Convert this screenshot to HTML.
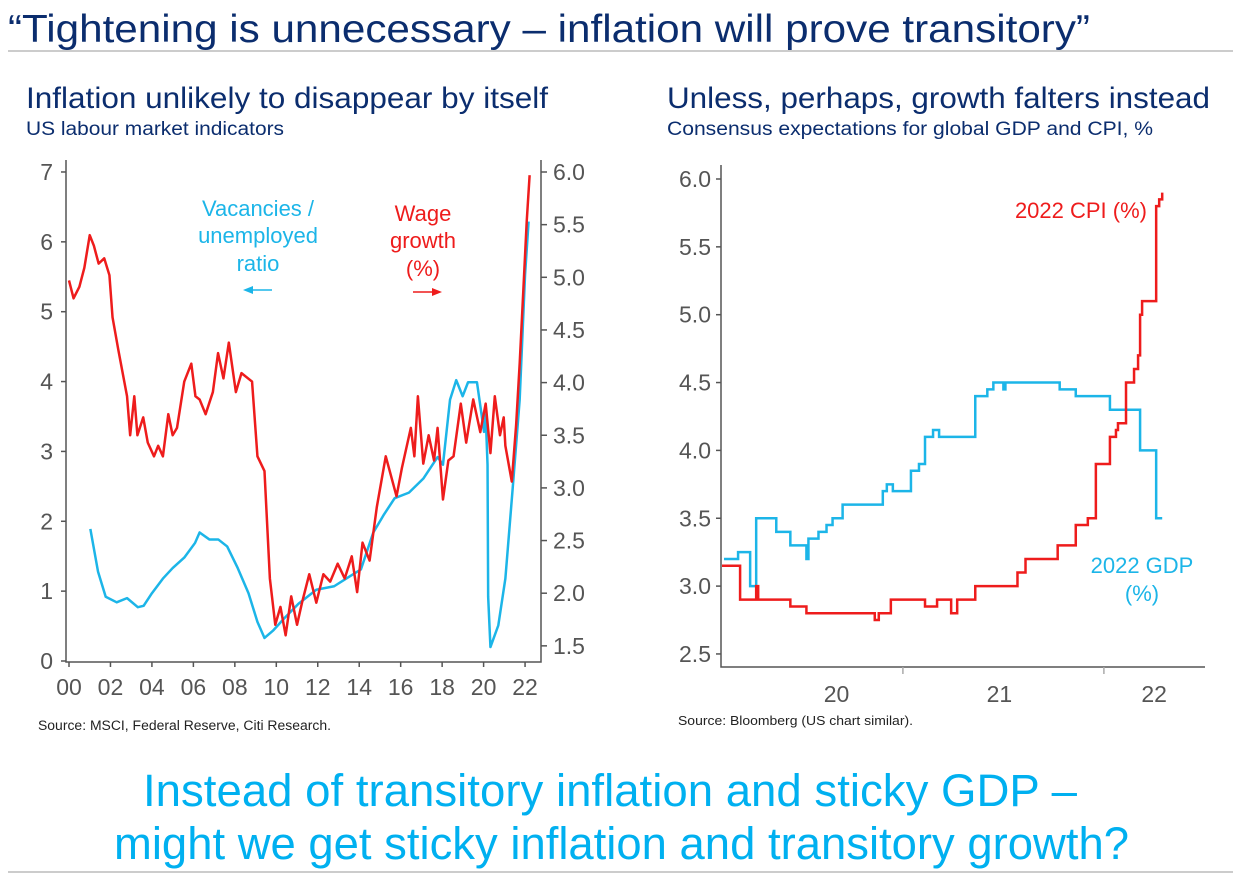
<!DOCTYPE html>
<html><head><meta charset="utf-8"><style>
html,body{margin:0;padding:0;background:#fff;}
svg{display:block;font-family:"Liberation Sans",Arial,sans-serif;}
</style></head><body>
<svg id="page" width="1233" height="884" viewBox="0 0 1233 884" xmlns="http://www.w3.org/2000/svg">
<text x="8" y="42" font-size="39" fill="#0B2D6E" textLength="1082" lengthAdjust="spacingAndGlyphs">“Tightening is unnecessary – inflation will prove transitory”</text>
<line x1="8" y1="51" x2="1233" y2="51" stroke="#bbb" stroke-width="1.5"/>
<text x="26" y="108" font-size="30" fill="#0B2D6E" textLength="522" lengthAdjust="spacingAndGlyphs">Inflation unlikely to disappear by itself</text>
<text x="26" y="135" font-size="19" fill="#0B2D6E" textLength="258" lengthAdjust="spacingAndGlyphs">US labour market indicators</text>
<text x="667" y="108" font-size="30" fill="#0B2D6E" textLength="543" lengthAdjust="spacingAndGlyphs">Unless, perhaps, growth falters instead</text>
<text x="667" y="135" font-size="19" fill="#0B2D6E" textLength="486" lengthAdjust="spacingAndGlyphs">Consensus expectations for global GDP and CPI, %</text>
<g id="left"></g>
<g id="right"></g>
<text x="38" y="730" font-size="13.5" fill="#222" textLength="293" lengthAdjust="spacingAndGlyphs">Source: MSCI, Federal Reserve, Citi Research.</text>
<text x="678" y="725" font-size="12.5" fill="#222" textLength="235" lengthAdjust="spacingAndGlyphs">Source: Bloomberg (US chart similar).</text>
<text x="143" y="806" font-size="45" fill="#00B0F0" textLength="934" lengthAdjust="spacingAndGlyphs">Instead of transitory inflation and sticky GDP –</text>
<text x="114" y="859" font-size="45" fill="#00B0F0" textLength="1015" lengthAdjust="spacingAndGlyphs">might we get sticky inflation and transitory growth?</text>
<line x1="8" y1="872" x2="1233" y2="872" stroke="#bbb" stroke-width="1.5"/>
</svg>
<script>
// ---- Left chart data ----
const leftXTicks = ["00","02","04","06","08","10","12","14","16","18","20","22"];
const leftYTicks = [0,1,2,3,4,5,6,7];
const rightYTicksL = [1.5,2.0,2.5,3.0,3.5,4.0,4.5,5.0,5.5,6.0];
const wageT = [0,0.22,0.5,0.74,1.0,1.2,1.43,1.7,1.95,2.1,2.38,2.8,2.95,3.15,3.3,3.58,3.8,4.1,4.3,4.53,4.79,5.0,5.21,5.56,5.9,6.1,6.3,6.59,6.94,7.19,7.45,7.71,8.05,8.32,8.83,9.09,9.43,9.69,9.95,10.2,10.45,10.72,11.0,11.24,11.59,11.93,12.27,12.6,12.96,13.3,13.64,13.9,14.16,14.5,14.85,15.28,15.8,16.06,16.49,16.66,16.83,17.09,17.35,17.61,17.78,18.04,18.3,18.55,18.9,19.16,19.5,19.84,20.1,20.33,20.54,20.79,20.97,21.05,21.36,21.57,21.74,21.91,22.08,22.22];
const wageV = [4.97,4.80,4.91,5.09,5.40,5.30,5.13,5.18,5.02,4.62,4.31,3.87,3.50,3.87,3.50,3.67,3.43,3.30,3.40,3.30,3.70,3.50,3.57,4.01,4.18,3.87,3.84,3.70,3.91,4.28,4.04,4.38,3.91,4.09,4.01,3.30,3.16,2.14,1.70,1.87,1.60,1.97,1.70,1.91,2.18,1.91,2.18,2.11,2.28,2.14,2.35,2.01,2.48,2.31,2.82,3.30,2.92,3.19,3.57,3.30,3.87,3.23,3.50,3.26,3.57,2.89,3.26,3.30,3.80,3.43,3.84,3.53,3.80,3.33,3.87,3.50,3.67,3.40,3.06,3.60,4.18,4.85,5.53,5.97];
const vacT = [1.03,1.4,1.77,2.3,2.8,3.32,3.6,4.0,4.53,5.0,5.56,6.08,6.3,6.77,7.2,7.63,8.14,8.66,9.09,9.43,9.86,10.38,11.07,11.93,12.79,13.48,14.08,14.68,15.2,15.71,16.4,17.09,17.78,18.04,18.38,18.68,18.99,19.25,19.68,20.02,20.1,20.19,20.22,20.33,20.71,21.05,21.4,21.74,22.0,22.17];
const vacV = [1.89,1.28,0.92,0.84,0.90,0.77,0.79,0.97,1.18,1.33,1.48,1.69,1.84,1.74,1.74,1.64,1.33,0.97,0.56,0.33,0.44,0.61,0.82,1.02,1.07,1.20,1.31,1.84,2.10,2.33,2.41,2.61,2.92,2.81,3.74,4.02,3.79,3.99,3.99,3.28,3.53,2.81,0.92,0.20,0.51,1.18,2.46,3.74,5.53,6.29];
// ---- Right chart data ----
const rYTicks = [2.5,3.0,3.5,4.0,4.5,5.0,5.5,6.0];
const rXLabels = ["20","21","22"];
const rXLabelPos = [2020.67,2021.48,2022.25];
const rXTickPos = [2021.0,2022.0];
const gdpT = [2020.11,2020.18,2020.24,2020.27,2020.37,2020.44,2020.52,2020.53,2020.58,2020.62,2020.65,2020.70,2020.90,2020.92,2020.95,2021.04,2021.08,2021.11,2021.15,2021.18,2021.36,2021.42,2021.45,2021.50,2021.51,2021.78,2021.86,2022.03,2022.18,2022.26,2022.29];
const gdpV = [3.2,3.25,3.0,3.5,3.4,3.3,3.2,3.35,3.4,3.45,3.5,3.6,3.7,3.75,3.7,3.85,3.9,4.1,4.15,4.1,4.4,4.45,4.5,4.45,4.5,4.45,4.4,4.3,4.0,3.5,3.5];
const cpiT = [2020.10,2020.19,2020.27,2020.28,2020.44,2020.52,2020.86,2020.88,2020.94,2021.11,2021.17,2021.24,2021.27,2021.36,2021.57,2021.61,2021.77,2021.86,2021.92,2021.96,2022.03,2022.06,2022.07,2022.11,2022.15,2022.17,2022.18,2022.19,2022.26,2022.275,2022.29];
const cpiV = [3.15,2.9,3.0,2.9,2.85,2.8,2.75,2.8,2.9,2.85,2.9,2.8,2.9,3.0,3.1,3.2,3.3,3.45,3.5,3.9,4.1,4.15,4.2,4.5,4.6,4.7,5.0,5.1,5.8,5.85,5.9];

const NS="http://www.w3.org/2000/svg";
function mk(parent,tag,attrs){const e=document.createElementNS(NS,tag);for(const k in attrs)e.setAttribute(k,attrs[k]);parent.appendChild(e);return e;}
const RED="#EE1C1C", BLUE="#1CB5E8", AX="#555", TXT="#555";

// Left chart scales
const lx=t=>69+t*20.73;
const ly=v=>661-v*69.86;
const ry=v=>172+(6-v)*105.3;
const L=document.getElementById('left');
let ax=mk(L,'path',{d:'M66,160 V662 H541 V160',fill:'none',stroke:AX,'stroke-width':1.5});


leftYTicks.forEach(v=>{
  mk(L,'line',{x1:61,x2:66,y1:ly(v),y2:ly(v),stroke:AX,'stroke-width':1.5});
  const t=mk(L,'text',{x:53,y:ly(v)+8,'font-size':23,fill:TXT,'text-anchor':'end'});t.textContent=v;
  
  
});
rightYTicksL.forEach(v=>{
  mk(L,'line',{x1:541,x2:547,y1:ry(v),y2:ry(v),stroke:AX,'stroke-width':1.5});
  const t=mk(L,'text',{x:553,y:ry(v)+8,'font-size':23,fill:TXT});t.textContent=v.toFixed(1);
  
  
});
leftXTicks.forEach((s,i)=>{
  const x=lx(i*2);
  mk(L,'line',{x1:x,x2:x,y1:662,y2:667,stroke:AX,'stroke-width':1.5});
  const t=mk(L,'text',{x:x,y:695,'font-size':23,fill:TXT,'text-anchor':'middle'});t.textContent=s;
  
  
});
let p=mk(L,'polyline',{points:vacT.map((t,i)=>lx(t)+','+ly(vacV[i])).join(' '),fill:'none',stroke:BLUE,'stroke-width':2.5,'stroke-linejoin':'round'});


p=mk(L,'polyline',{points:wageT.map((t,i)=>lx(t)+','+ry(wageV[i])).join(' '),fill:'none',stroke:RED,'stroke-width':2.5,'stroke-linejoin':'round'});


// annotations
[["Vacancies /",216],["unemployed",243],["ratio",271]].forEach(a=>{const t=mk(L,'text',{x:258,y:a[1],'font-size':22,fill:BLUE,'text-anchor':'middle'});t.textContent=a[0];

});
[["Wage",221],["growth",248],["(%)",276]].forEach(a=>{const t=mk(L,'text',{x:423,y:a[1],'font-size':22,fill:RED,'text-anchor':'middle'});t.textContent=a[0];

});
mk(L,'line',{x1:252,x2:272,y1:290,y2:290,stroke:BLUE,'stroke-width':1.5});
mk(L,'path',{d:'M243,290 L253,286 L253,294 Z',fill:BLUE});
mk(L,'line',{x1:413,x2:433,y1:292,y2:292,stroke:RED,'stroke-width':1.5});
mk(L,'path',{d:'M442,292 L432,288 L432,296 Z',fill:RED});

// Right chart scales
const X=t=>721+(t-2020.095)*201;
const Y=v=>179+(6-v)*135.7;
const R=document.getElementById('right');
ax=mk(R,'path',{d:'M721,165 V667 H1205',fill:'none',stroke:AX,'stroke-width':1.5});


rYTicks.forEach(v=>{
  mk(R,'line',{x1:716,x2:721,y1:Y(v),y2:Y(v),stroke:AX,'stroke-width':1.5});
  const t=mk(R,'text',{x:711,y:Y(v)+8,'font-size':23,fill:TXT,'text-anchor':'end'});t.textContent=v.toFixed(1);
  
  
});
rXTickPos.forEach(t0=>mk(R,'line',{x1:X(t0),x2:X(t0),y1:667,y2:674,stroke:'#aaa','stroke-width':1.5}));
rXLabels.forEach((s,i)=>{const t=mk(R,'text',{x:X(rXLabelPos[i]),y:702,'font-size':23,fill:TXT,'text-anchor':'middle'});t.textContent=s;

});
function stepPts(T,V){let s=[];for(let i=0;i<T.length;i++){if(i>0)s.push(X(T[i])+','+Y(V[i-1]));s.push(X(T[i])+','+Y(V[i]));}return s.join(' ');}
p=mk(R,'polyline',{points:stepPts(gdpT,gdpV),fill:'none',stroke:BLUE,'stroke-width':2.5});


p=mk(R,'polyline',{points:stepPts(cpiT,cpiV),fill:'none',stroke:RED,'stroke-width':2.5});


let t=mk(R,'text',{x:1147,y:218,'font-size':22,fill:RED,'text-anchor':'end'});t.textContent="2022 CPI (%)";


t=mk(R,'text',{x:1142,y:573,'font-size':22,fill:BLUE,'text-anchor':'middle'});t.textContent="2022 GDP";


t=mk(R,'text',{x:1142,y:601,'font-size':22,fill:BLUE,'text-anchor':'middle'});t.textContent="(%)";


</script>
</body></html>
